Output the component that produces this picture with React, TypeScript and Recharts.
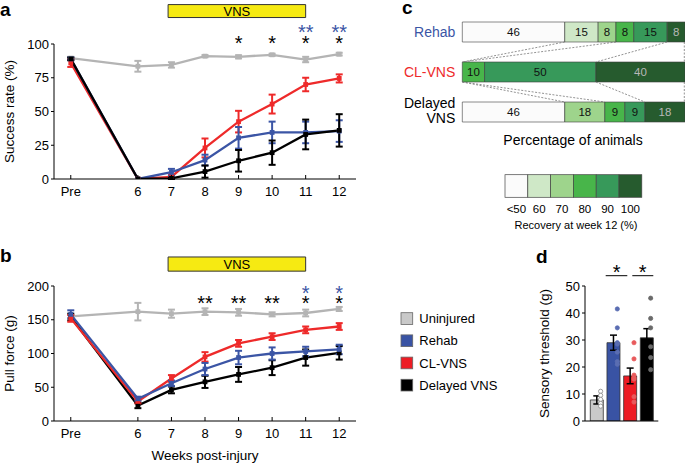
import React from 'react';
import {
  ComposedChart, Line, ErrorBar, XAxis, YAxis, ReferenceArea, ReferenceDot,
  BarChart, Bar, LabelList, Cell, Scatter,
} from 'recharts';

const FONT = '"Liberation Sans", Arial, Helvetica, sans-serif';

// ---------------- shared ----------------
const weeks = [4, 6, 7, 8, 9, 10, 11, 12];
const weekLabels = ['Pre', '6', '7', '8', '9', '10', '11', '12'];
const seriesNames = ['Uninjured', 'Rehab', 'CL-VNS', 'Delayed VNS'];
const seriesKeys = ['uninjured', 'rehab', 'clvns', 'delayed'];
const lineColors = ['#b4b4b4', '#3b55a5', '#ee2a2a', '#000000'];
const fillColors = ['#c9c9c9', '#3953a4', '#ed1c24', '#000000'];
const vnsWeeks = [6.9, 11];

// ---------------- panel a: success rate (%) ----------------
const successUninjured = [89.5, 83.5, 84.5, 91, 90.5, 92, 88.5, 92.5];
const successUninjuredErr = [1, 4, 2, 0.8, 1.2, 0.8, 2, 1];
const successRehab = [89, 0, 5, 14, 30.5, 34.5, 34.5, 35.5];
const successRehabErr = [1, 0, 2.5, 4, 8, 8, 8, 8];
const successCLVNS = [86, 0, 1.5, 23, 42.5, 55.5, 70, 74.5];
const successCLVNSErr = [3, 0, 1.5, 7, 8, 7, 5, 3];
const successDelayed = [89, 0, 0.5, 5.5, 13.5, 19.5, 33, 36];
const successDelayedErr = [1, 0, 0.5, 4.5, 8, 9, 11, 12];
const successTicks = [0, 25, 50, 75, 100];
const starWeeksA = [9, 10, 11, 12];
const blueStarWeeksA = [11, 12];
const starLevelA = 104.3;
const blueStarLevelA = 112.5;
const vnsLevelA = [119.6, 129.2];

// ---------------- panel b: pull force (g) ----------------
const pullUninjured = [155, 162, 159, 162, 161, 158, 160, 166];
const pullUninjuredErr = [2, 13, 6, 5, 5, 3, 5, 3];
const pullRehab = [158, 33, 56, 77, 94, 100, 103, 106];
const pullRehabErr = [6, 3, 4, 9, 10, 9, 7, 7];
const pullCLVNS = [152, 29, 63, 95, 115, 125, 135, 140];
const pullCLVNSErr = [5, 3, 5, 7, 5, 5, 5, 5];
const pullDelayed = [154, 23, 46, 58, 69, 79, 94, 101];
const pullDelayedErr = [5, 4, 5, 9, 11, 11, 12, 10];
const pullTicks = [0, 50, 100, 150, 200];
const doubleStarWeeksB = [8, 9, 10];
const singleStarWeeksB = [11, 12];
const blueStarWeeksB = [11, 12];
const starLevelB = 181.8;
const blueStarLevelB = 196;
const vnsLevelB = [222, 243];

// ---------------- panel c: recovery distribution ----------------
const groupsC = ['Rehab', 'CL-VNS', 'Delayed VNS'];
const groupColorsC = ['#3b55a5', '#ee2a2a', '#000000'];
const binLabels = ['<50', '60', '70', '80', '90', '100'];
const binKeys = ['b50', 'b60', 'b70', 'b80', 'b90', 'b100'];
const binColors = ['#fbfbfb', '#cfe8c7', '#9ed48c', '#48b54a', '#37995a', '#265b2e'];
const pct50 = [46, 0, 46];
const pct60 = [15, 0, 0];
const pct70 = [8, 0, 18];
const pct80 = [8, 10, 9];
const pct90 = [15, 50, 9];
const pct100 = [8, 40, 18];
const binArrays = [pct50, pct60, pct70, pct80, pct90, pct100];

// ---------------- panel d: sensory threshold (g) ----------------
const sensoryMean = [7.8, 29, 16.7, 30.8];
const sensoryErr = [1.5, 2.8, 2.9, 3.4];
const dotsUninjured = [11, 9.5, 8, 6.5, 5.5];
const dotsRehab = [41.5, 34.5, 29, 28.5, 25.5, 22, 21];
const dotsCLVNS = [29, 23, 17, 16, 15.5, 9, 7];
const dotsDelayed = [45.5, 38, 34.5, 27.5, 23.5, 19];
const dotSets = [dotsUninjured, dotsRehab, dotsCLVNS, dotsDelayed];
const sensoryTicks = [0, 10, 20, 30, 40, 50];

// ---------------- builders ----------------
function buildRows(vals: number[][], errs: number[][]) {
  return weeks.map((w, i) => {
    const r: any = { week: w };
    seriesKeys.forEach((k, j) => {
      r[k] = vals[j][i];
      r[k + 'Err'] = errs[j][i];
    });
    return r;
  });
}

const rowsA = buildRows(
  [successUninjured, successRehab, successCLVNS, successDelayed],
  [successUninjuredErr, successRehabErr, successCLVNSErr, successDelayedErr],
);
const rowsB = buildRows(
  [pullUninjured, pullRehab, pullCLVNS, pullDelayed],
  [pullUninjuredErr, pullRehabErr, pullCLVNSErr, pullDelayedErr],
);

const starsA = [
  ...starWeeksA.map((w) => ({ x: w, y: starLevelA, text: '*', color: '#000' })),
  ...blueStarWeeksA.map((w) => ({ x: w, y: blueStarLevelA, text: '**', color: '#3b55a5' })),
];
const starsB = [
  ...doubleStarWeeksB.map((w) => ({ x: w, y: starLevelB, text: '**', color: '#000' })),
  ...singleStarWeeksB.map((w) => ({ x: w, y: starLevelB, text: '*', color: '#000' })),
  ...blueStarWeeksB.map((w) => ({ x: w, y: blueStarLevelB, text: '*', color: '#3b55a5' })),
];

const rowsC = groupsC.map((g, i) => {
  const r: any = { group: g };
  binKeys.forEach((k, j) => { r[k] = binArrays[j][i]; });
  return r;
});

const rowsD = seriesNames.map((g, i) => ({ group: g, mean: sensoryMean[i], err: sensoryErr[i] }));

// ---------------- small components ----------------
const WeekTick = (props: any) => {
  const { x, y, payload } = props;
  const idx = weeks.indexOf(payload.value);
  return (
    <g>
      <line x1={x} x2={x} y1={y} y2={y - 4} stroke="#000" strokeWidth={1} />
      <text x={x} y={y + 17} textAnchor="middle" fontSize={13} fill="#000" fontFamily={FONT}>
        {idx >= 0 ? weekLabels[idx] : payload.value}
      </text>
    </g>
  );
};

const starShape = (text: string, color: string) => (p: any) => (
  <text x={p.cx} y={p.cy + 11.5} textAnchor="middle" fontSize={20} fill={color} fontFamily={FONT}>
    {text}
  </text>
);

const squareDot = (color: string) => (p: any) => {
  if (p.cx == null || p.cy == null) return <g key={`e-${p.index}`} />;
  return <rect key={`d-${p.index}`} x={p.cx - 2.4} y={p.cy - 2.4} width={4.8} height={4.8} fill={color} />;
};

function TimeCourse(props: any) {
  const { rows, order, yDomain, yTicks, yLabel, vnsY, stars, width, height, margin, xLabel } = props;
  return (
    <ComposedChart width={width} height={height} data={rows} margin={margin}>
      <XAxis
        dataKey="week" type="number" domain={[3.5, 12.5]} ticks={weeks} interval={0} allowDataOverflow
        tick={<WeekTick />} tickLine={false} tickSize={0} tickMargin={0}
        height={xLabel ? 42 : 21}
        axisLine={{ stroke: '#000', strokeWidth: 1 }}
        label={xLabel ? { value: xLabel, position: 'insideBottom', offset: 3, style: { fontSize: 13.5, fill: '#000', fontFamily: FONT } } : undefined}
      />
      <YAxis
        type="number" domain={yDomain} ticks={yTicks} interval={0} allowDataOverflow width={54}
        tickSize={3} tickMargin={2} tickLine={{ stroke: '#000' }} axisLine={{ stroke: '#000' }}
        tick={{ fontSize: 13, fill: '#000', fontFamily: FONT }}
        label={{ value: yLabel, angle: -90, position: 'insideLeft', offset: 9, style: { textAnchor: 'middle', fontSize: 13.5, fill: '#000', fontFamily: FONT } }}
      />
      <ReferenceArea
        x1={vnsWeeks[0]} x2={vnsWeeks[1]} y1={vnsY[0]} y2={vnsY[1]} ifOverflow="visible"
        fill="#f6ea12" fillOpacity={1} stroke="#333" strokeWidth={1}
        label={{ value: 'VNS', position: 'center', fontSize: 13, fill: '#000', fontFamily: FONT }}
      />
      {order.map((j: number) => (
        <Line
          key={seriesKeys[j]} type="linear" dataKey={seriesKeys[j]} stroke={lineColors[j]} strokeWidth={2.3}
          dot={squareDot(lineColors[j])} activeDot={false} isAnimationActive={false}
        >
          <ErrorBar dataKey={seriesKeys[j] + 'Err'} width={3.5} strokeWidth={2} stroke={lineColors[j]} direction="y" />
        </Line>
      ))}
      {stars.map((s: any, i: number) => (
        <ReferenceDot key={i} x={s.x} y={s.y} r={0} ifOverflow="visible" shape={starShape(s.text, s.color)} />
      ))}
    </ComposedChart>
  );
}

const GroupTick = (props: any) => {
  const { x, y, payload } = props;
  const idx = groupsC.indexOf(payload.value);
  const color = groupColorsC[idx] || '#000';
  const isTwo = payload.value === 'Delayed VNS';
  return (
    <text x={x - 7} y={y} textAnchor="end" fontSize={14} fill={color} fontFamily={FONT}>
      {isTwo ? (
        <>
          <tspan x={x - 7} dy={-3.6}>Delayed</tspan>
          <tspan x={x - 7} dy={15}>VNS</tspan>
        </>
      ) : (
        <tspan x={x - 7} dy={4.9}>{payload.value}</tspan>
      )}
    </text>
  );
};

const binLabel = (binIdx: number) => (p: any) => {
  if (!p.value) return null;
  return (
    <text
      x={p.x + p.width / 2} y={p.y + p.height / 2 + 4.1} textAnchor="middle" fontSize={11.5}
      fill={binIdx === 5 ? '#b8b8b8' : '#111'} fontFamily={FONT}
    >
      {p.value}
    </text>
  );
};

const dotStyles = [
  { fill: '#ffffff', stroke: '#888888' },
  { fill: '#5a6db2', stroke: '#5a6db2' },
  { fill: '#e85a5c', stroke: '#e85a5c' },
  { fill: '#6a6a6a', stroke: '#6a6a6a' },
];
const dotShape = (j: number) => (p: any) => (
  <circle cx={p.cx + 4} cy={p.cy} r={2.1} fill={dotStyles[j].fill} stroke={dotStyles[j].stroke} strokeWidth={0.8} />
);

// ---------------- overlay geometry (panel c connectors, legends) ----------------
const cPlotLeft = 462.3;
const cPlotW = 222.7;
const cRowTop = [22, 62, 102];
const cBarH = 20;
const cum = (row: number, upto: number) => binArrays.slice(0, upto).reduce((s, arr) => s + arr[row], 0);
const anchorBins = [1, 3, 5, 6];
const cx = (pct: number) => cPlotLeft + (pct / 100) * cPlotW - (pct >= 100 ? 0.7 : 0);

export default function App() {
  const connectors: any[] = [];
  [0, 1].forEach((r) => {
    anchorBins.forEach((b) => {
      connectors.push({
        x1: cx(cum(r, b)), y1: cRowTop[r] + cBarH,
        x2: cx(cum(r + 1, b)), y2: cRowTop[r + 1],
      });
    });
  });

  const scaleX0 = 505;
  const boxW = 22.8;
  const scaleY0 = 174.7;
  const boxH = 22.6;
  const legTop = 312.7;
  const legStep = 22.2;
  const legSize = 11.7;

  return (
    <div style={{ position: 'absolute', left: 0, top: 0, width: 685, height: 463, overflow: 'hidden', background: '#fff', fontFamily: FONT }}>
      <div style={{ position: 'absolute', left: 0, top: 0 }}>
        <TimeCourse
          rows={rowsA} order={[0, 2, 1, 3]} yDomain={[0, 100]} yTicks={successTicks}
          yLabel="Success rate (%)" vnsY={vnsLevelA} stars={starsA}
          width={370} height={200} margin={{ top: 44, right: 14, left: 0, bottom: 0 }}
        />
      </div>
      <div style={{ position: 'absolute', left: 0, top: 230 }}>
        <TimeCourse
          rows={rowsB} order={[0, 3, 2, 1]} yDomain={[0, 200]} yTicks={pullTicks}
          yLabel="Pull force (g)" vnsY={vnsLevelB} stars={starsB}
          width={370} height={233} margin={{ top: 56, right: 14, left: 0, bottom: 0 }}
          xLabel="Weeks post-injury"
        />
      </div>
      <div style={{ position: 'absolute', left: 340, top: 0 }}>
        <BarChart layout="vertical" width={345} height={150} data={rowsC} margin={{ top: 12, right: 0, left: 0, bottom: 18 }} barSize={20}>
          <XAxis type="number" domain={[0, 100]} hide />
          <YAxis type="category" dataKey="group" width={122.3} axisLine={false} tickLine={false} tickSize={0} tickMargin={0} interval={0} tick={<GroupTick />} />
          {binKeys.map((k, i) => (
            <Bar key={k} dataKey={k} stackId="s" fill={binColors[i]} stroke="#3c3c3c" strokeWidth={0.6} isAnimationActive={false}>
              <LabelList dataKey={k} content={binLabel(i)} />
            </Bar>
          ))}
        </BarChart>
      </div>
      <div style={{ position: 'absolute', left: 530, top: 240 }}>
        <ComposedChart width={155} height={223} data={rowsD} margin={{ top: 46, right: 26.7, left: 0, bottom: 0 }}>
          <XAxis dataKey="group" type="category" allowDuplicatedCategory={false} height={42} tick={false} tickLine={false} axisLine={{ stroke: '#000' }} padding={{ left: 3.3, right: 3.3 }} />
          <YAxis
            type="number" domain={[0, 50]} ticks={sensoryTicks} interval={0} allowDataOverflow width={55}
            tickSize={3} tickMargin={2} tickLine={{ stroke: '#000' }} axisLine={{ stroke: '#000' }}
            tick={{ fontSize: 13, fill: '#000', fontFamily: FONT }}
            label={{ value: 'Sensory threshold (g)', angle: -90, position: 'insideLeft', offset: 14, style: { textAnchor: 'middle', fontSize: 13.5, fill: '#000', fontFamily: FONT } }}
          />
          <Bar dataKey="mean" barSize={13} stroke="#333" strokeWidth={0.8} isAnimationActive={false}>
            {rowsD.map((r, i) => <Cell key={r.group} fill={fillColors[i]} />)}
            <ErrorBar dataKey="err" width={3.5} strokeWidth={1.5} stroke="#000" direction="y" />
          </Bar>
          {dotSets.map((set, j) => (
            <Scatter
              key={seriesNames[j]} data={set.map((v) => ({ group: seriesNames[j], v }))} dataKey="v"
              isAnimationActive={false} shape={dotShape(j)}
            />
          ))}
        </ComposedChart>
      </div>

      <svg width={685} height={463} style={{ position: 'absolute', left: 0, top: 0, pointerEvents: 'none' }} fontFamily={FONT}>
        {/* panel letters */}
        <text x={0} y={16} fontSize={19} fontWeight="bold">a</text>
        <text x={0} y={262} fontSize={19} fontWeight="bold">b</text>
        <text x={402} y={14} fontSize={19} fontWeight="bold">c</text>
        <text x={536} y={263} fontSize={19} fontWeight="bold">d</text>

        {/* panel c connectors */}
        {connectors.map((c, i) => (
          <line key={i} x1={c.x1} y1={c.y1} x2={c.x2} y2={c.y2} stroke="#777" strokeWidth={0.8} strokeDasharray="2 1.5" />
        ))}
        <text x={573} y={145} textAnchor="middle" fontSize={14} fill="#000">Percentage of animals</text>

        {/* colour scale */}
        {binColors.map((col, i) => (
          <rect key={i} x={scaleX0 + i * boxW} y={scaleY0} width={boxW} height={boxH} fill={col} stroke="#444" strokeWidth={0.7} />
        ))}
        {binLabels.map((l, i) => (
          <text key={l} x={scaleX0 + (i + 0.5) * boxW} y={212.7} textAnchor="middle" fontSize={11.5} fill="#000">{l}</text>
        ))}
        <text x={576} y={228.6} textAnchor="middle" fontSize={11} fill="#000">Recovery at week 12 (%)</text>

        {/* legend */}
        {seriesNames.map((n, i) => (
          <g key={n}>
            <rect x={401} y={legTop + i * legStep} width={legSize} height={legSize} fill={fillColors[i]} stroke="#666" strokeWidth={0.8} />
            <text x={419.3} y={legTop + i * legStep + legSize / 2 + 4.6} fontSize={13} fill="#000">{n}</text>
          </g>
        ))}

        {/* panel d significance */}
        <line x1={605.7} x2={627.3} y1={275.7} y2={275.7} stroke="#000" strokeWidth={1} />
        <line x1={632.3} x2={653.3} y1={275.7} y2={275.7} stroke="#000" strokeWidth={1} />
        <text x={616.7} y={278.5} textAnchor="middle" fontSize={20} fill="#000">*</text>
        <text x={642.7} y={278.5} textAnchor="middle" fontSize={20} fill="#000">*</text>
      </svg>
    </div>
  );
}
